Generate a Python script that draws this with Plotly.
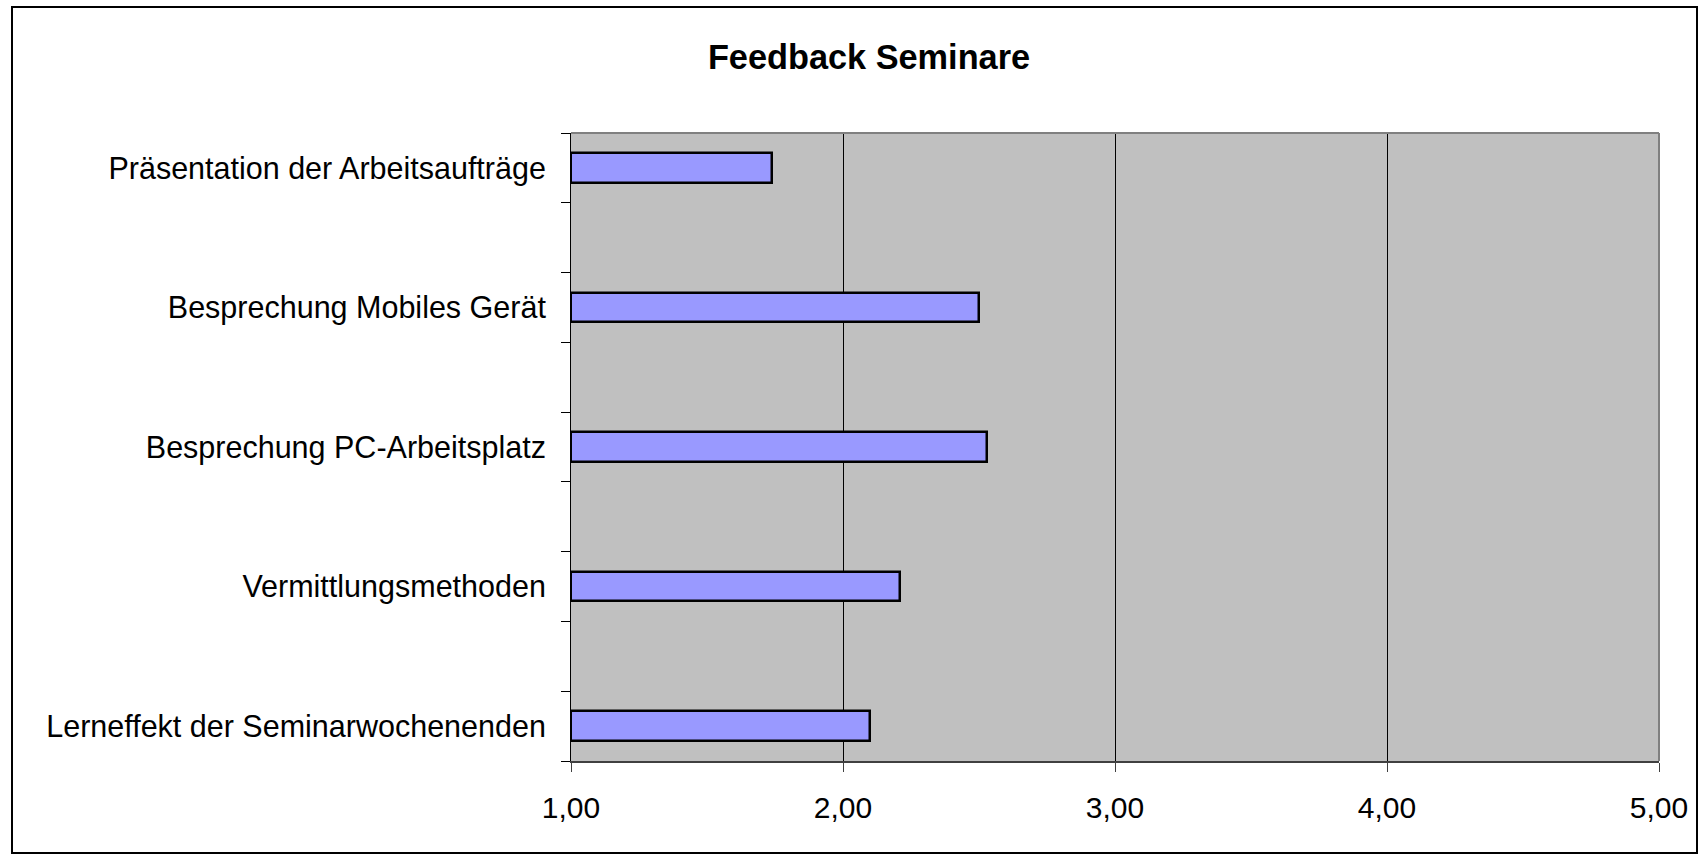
import plotly.graph_objects as go

# Data (top-to-bottom order as in reference)
categories = [
    "Präsentation der Arbeitsaufträge",
    "Besprechung Mobiles Gerät",
    "Besprechung PC-Arbeitsplatz",
    "Vermittlungsmethoden",
    "Lerneffekt der Seminarwochenenden",
]
values = [1.74, 2.50, 2.53, 2.21, 2.10]
x_tick_values = [1, 2, 3, 4, 5]
x_tick_labels = ["1,00", "2,00", "3,00", "4,00", "5,00"]
axis_min = 1

# Build slots: real categories separated by blank spacer slots (bottom to top)
slots, slot_vals = [], []
for i, (c, v) in enumerate(zip(categories, values)):
    if i > 0:
        slots.append(" " * i)
        slot_vals.append(None)
    slots.append(c)
    slot_vals.append(v)
slots = slots[::-1]
slot_vals = slot_vals[::-1]

fig = go.Figure(go.Bar(
    y=slots,
    x=[None if v is None else v - axis_min for v in slot_vals],
    base=axis_min,
    orientation="h",
    width=0.42,
    marker=dict(color="#9999FF", line=dict(color="black", width=2.5)),
    hoverinfo="skip",
))

L, R, T, B = 571, 40, 133, 94
W, H = 1699, 855
pw, ph = W - L - R, H - T - B

def px_x(p):
    return (p - L) / pw

def px_y(p):
    return (H - B - p) / ph

fig.update_layout(
    width=W, height=H,
    margin=dict(l=L, r=R, t=T, b=B, pad=0),
    paper_bgcolor="white",
    plot_bgcolor="#C0C0C0",
    font=dict(family="Liberation Sans, Arial, sans-serif", size=30, color="black"),
    title=dict(text="<b>Feedback Seminare</b>", font=dict(size=34.3, color="black"),
               xref="container", x=869 / W, xanchor="center",
               yref="container", y=1 - 57 / H, yanchor="middle"),
    showlegend=False,
    bargap=0,
    xaxis=dict(range=[1, 5], tickvals=x_tick_values, ticktext=x_tick_labels,
               showgrid=True, gridcolor="black", gridwidth=1,
               showline=True, linecolor="#404040", linewidth=2,
               ticks="outside", ticklen=9, tickcolor="#404040", tickwidth=1,
               zeroline=False, ticklabelstandoff=10),
    yaxis=dict(type="category", categoryorder="array", categoryarray=slots,
               tickson="boundaries", ticks="outside", ticklen=9, tickcolor="black",
               showgrid=False, showline=True, linecolor="black", linewidth=1,
               ticklabelstandoff=18, tickfont=dict(size=30.5)),
    shapes=[
        # plot area top/right border
        dict(type="line", xref="paper", yref="paper", x0=0, x1=1, y0=1, y1=1,
             line=dict(color="#808080", width=2), layer="above"),
        dict(type="line", xref="paper", yref="paper", x0=1, x1=1, y0=0, y1=1,
             line=dict(color="#808080", width=2), layer="above"),
        # chart frame
        dict(type="rect", xref="paper", yref="paper",
             x0=px_x(12), x1=px_x(1697), y0=px_y(853), y1=px_y(7),
             line=dict(color="black", width=2), fillcolor="rgba(0,0,0,0)", layer="above"),
    ],
)

fig.write_html("out.html", config={"displayModeBar": False},
               post_script="document.body.style.margin='0';")
